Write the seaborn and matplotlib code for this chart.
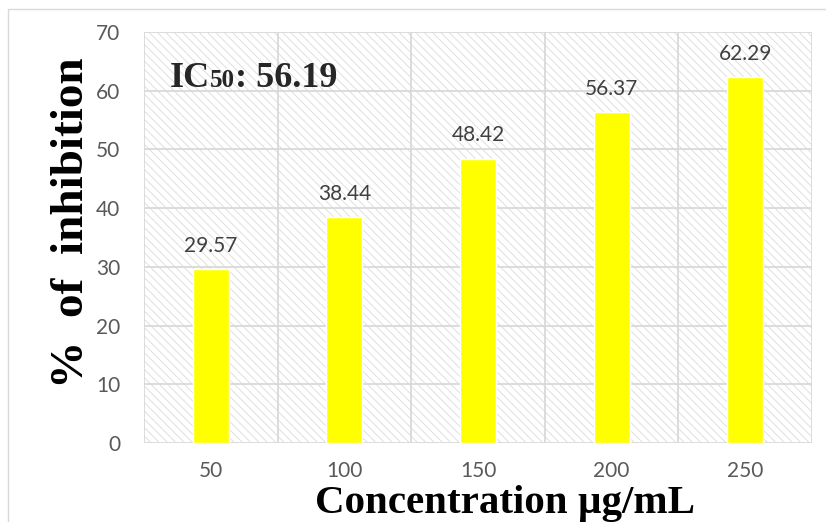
import matplotlib
matplotlib.use("Agg")
import matplotlib.pyplot as plt
import seaborn as sns
import numpy as np
import pandas as pd
from matplotlib.patches import Rectangle

# ---- data ----
concentrations = ["50", "100", "150", "200", "250"]
inhibition = [29.57, 38.44, 48.42, 56.37, 62.29]
y_ticks = [0, 10, 20, 30, 40, 50, 60, 70]
ic50_value = "56.19"
x_label = "Concentration µg/mL"
y_label = "%  of  inhibition"

df = pd.DataFrame({"conc": concentrations, "inh": inhibition})

sns.set_theme(style="white")
plt.rcParams["hatch.linewidth"] = 0.6

W, H = 826, 522
fig = plt.figure(figsize=(W / 100, H / 100), dpi=100)
fig.patch.set_facecolor("white")

# outer chart border
fig.add_artist(Rectangle((8 / W, 1 - 9 / H), 2, -2, transform=fig.transFigure,
                         fill=False, edgecolor="#d9d9d9", linewidth=1.0))

ax = fig.add_axes([144 / W, (H - 443) / H, (812 - 144) / W, (443 - 32) / H])
ax.patch.set_facecolor("white")
ax.patch.set_edgecolor("#dadada")
ax.patch.set_linewidth(0)
ax.patch.set_hatch("\\\\\\\\")

sns.barplot(data=df, x="conc", y="inh", color="#ffff00", saturation=1,
            width=0.27, ax=ax, zorder=3)

ax.set_xlim(-0.5, len(concentrations) - 0.5)
ax.set_ylim(0, 70)
ax.set_yticks(y_ticks)
ax.set_xticks(range(len(concentrations)))
ax.set_xticks(np.arange(-0.5, len(concentrations), 1), minor=True)
ax.set_axisbelow(True)
ax.grid(False)
ax.yaxis.grid(True, which="major", color="#d9d9d9", linewidth=1.3)
ax.xaxis.grid(True, which="minor", color="#d9d9d9", linewidth=1.3)
for s in ax.spines.values():
    s.set_visible(False)

tick_font = dict(family="Lato", size=15, color="#595959")
ax.set_yticklabels([str(t) for t in y_ticks], **tick_font)
ax.set_xticklabels(concentrations, **tick_font)
ax.tick_params(axis="y", which="both", length=0, pad=17)
ax.tick_params(axis="x", which="both", length=0, pad=13)
ax.set_xlabel("")
ax.set_ylabel("")

# data labels
for i, v in enumerate(inhibition):
    ax.annotate(f"{v:.2f}", (i, v), xytext=(0, 12.5), textcoords="offset points",
                ha="center", va="baseline", family="Lato", size=15, color="#404040")

# axis titles
fig.text(505 / W, (H - 513) / H, x_label, ha="center", va="baseline",
         family="Liberation Serif", weight="bold", size=29.5, color="black")
fig.text(72 / W, (H - 223) / H, y_label, ha="center", va="center", rotation=90,
         family="Liberation Serif", weight="bold", size=34, color="black")

# IC50 annotation: "IC" + smaller "50" + ": 56.19"
fig.canvas.draw()
renderer = fig.canvas.get_renderer()
base_y = (H - 87) / H
t1 = fig.text(170 / W, base_y, "IC", ha="left", va="baseline",
              family="Liberation Serif", weight="bold", size=26)
bb = t1.get_window_extent(renderer)
t2 = fig.text(bb.x1 / W, base_y, "50", ha="left", va="baseline",
              family="Liberation Serif", weight="bold", size=18)
bb2 = t2.get_window_extent(renderer)
t3 = fig.text(bb2.x1 / W, base_y, ": " + ic50_value, ha="left", va="baseline",
              family="Liberation Serif", weight="bold", size=26)

fig.savefig("out.png", dpi=100, facecolor="white")
